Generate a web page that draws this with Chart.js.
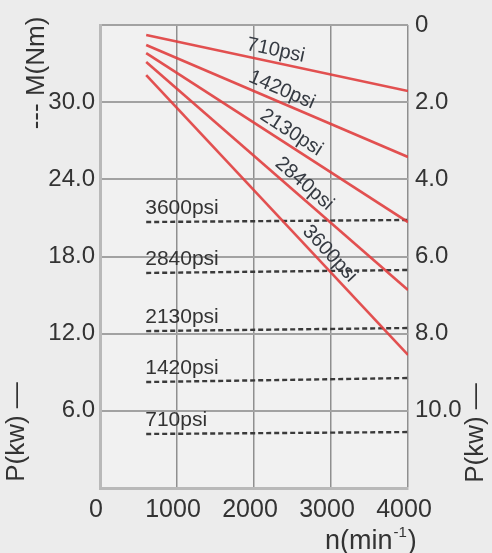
<!DOCTYPE html>
<html>
<head>
<meta charset="utf-8">
<script src="https://cdn.jsdelivr.net/npm/chart.js@4.4.1/dist/chart.umd.min.js"></script>
<style>
  html, body { margin: 0; padding: 0; background: #ececec; }
  canvas { display: block; }
</style>
</head>
<body>
<canvas id="motorChart" width="492" height="553"></canvas>
<script>
// speed range of every curve, n in min^-1
const speedRange = [600, 4000];
const pressureLabels = ['710psi', '1420psi', '2130psi', '2840psi', '3600psi'];
// solid red curves, read on the right axis (0 at the top)
const powerAtStart = [0.26, 0.52, 0.73, 0.96, 1.30];
const powerAtEnd = [1.71, 3.42, 5.11, 6.87, 8.55];
// dashed curves, read on the left axis M(Nm)
const torqueAtStart = [4.2, 8.24, 12.2, 16.72, 20.68];
const torqueAtEnd = [4.35, 8.55, 12.44, 16.95, 20.84];
// tick labels
const speedTicks = [0, 1000, 2000, 3000, 4000];
const torqueTicks = [6, 12, 18, 24, 30];
const powerTicks = [0, 2, 4, 6, 8, 10];

const textColor = '#333333';
const fontFamily = '"Liberation Sans", Arial, sans-serif';

const powerSets = pressureLabels.map((label, i) => ({
    label: label,
    yAxisID: 'yP',
    data: [{ x: speedRange[0], y: powerAtStart[i] }, { x: speedRange[1], y: powerAtEnd[i] }],
    borderColor: 'rgba(224, 62, 62, 0.9)',
    borderWidth: 2.6,
    pointRadius: 0,
    fill: false,
}));

const torqueSets = pressureLabels.map((label, i) => ({
    label: label,
    yAxisID: 'yM',
    data: [{ x: speedRange[0], y: torqueAtStart[i] }, { x: speedRange[1], y: torqueAtEnd[i] }],
    borderColor: '#3a3a3a',
    borderWidth: 2.4,
    borderDash: [5, 3],
    pointRadius: 0,
    fill: false,
}));

// backgrounds
const backdrop = {
    id: 'backdrop',
    beforeDraw(chart) {
        const { ctx, chartArea: a } = chart;
        ctx.save();
        ctx.fillStyle = '#ececec';
        ctx.fillRect(0, 0, chart.width, chart.height);
        ctx.fillStyle = '#f1f1f1';
        ctx.fillRect(a.left, a.top, a.right - a.left, a.bottom - a.top);
        ctx.restore();
    }
};

// curve labels and axis titles
const annotations = {
    id: 'annotations',
    afterDatasetsDraw(chart) {
        const { ctx } = chart;
        const xs = chart.scales.x, yM = chart.scales.yM, yP = chart.scales.yP;
        ctx.save();
        ctx.fillStyle = textColor;

        // dashed curve labels, sitting on the start of each line
        ctx.font = '21px ' + fontFamily;
        ctx.textAlign = 'left';
        ctx.textBaseline = 'alphabetic';
        pressureLabels.forEach((label, i) => {
            ctx.fillText(label, xs.getPixelForValue(speedRange[0]) - 1, yM.getPixelForValue(torqueAtStart[i]) - 8);
        });

        // red curve labels, turned along each line
        const anchors = [2250, 2300, 2400, 2550, 2870];
        ctx.font = '20px ' + fontFamily;
        ctx.textAlign = 'center';
        ctx.textBaseline = 'middle';
        ctx.fillStyle = '#353a42';
        pressureLabels.forEach((label, i) => {
            const x0 = xs.getPixelForValue(speedRange[0]), y0 = yP.getPixelForValue(powerAtStart[i]);
            const x1 = xs.getPixelForValue(speedRange[1]), y1 = yP.getPixelForValue(powerAtEnd[i]);
            const ang = Math.atan2(y1 - y0, x1 - x0);
            const t = (anchors[i] - speedRange[0]) / (speedRange[1] - speedRange[0]);
            const px = x0 + (x1 - x0) * t + Math.sin(ang) * 12;
            const py = y0 + (y1 - y0) * t - Math.cos(ang) * 12;
            ctx.save();
            ctx.translate(px, py);
            ctx.rotate(ang);
            ctx.fillText(label, 0, 0);
            ctx.restore();
        });

        // axis titles
        ctx.fillStyle = textColor;
        ctx.font = '26px ' + fontFamily;
        const vertical = (txt, x, y) => {
            ctx.save();
            ctx.translate(x, y);
            ctx.rotate(-Math.PI / 2);
            ctx.fillText(txt, 0, 0);
            ctx.restore();
        };
        vertical('--- M(Nm)', 37, 73);
        vertical('P(kw) \u2014', 17, 432);
        vertical('P(kw) \u2014', 476, 433);

        // n(min^-1)
        ctx.textAlign = 'left';
        ctx.textBaseline = 'alphabetic';
        let tx = 325;
        const base = 549;
        ctx.font = '27px ' + fontFamily;
        ctx.fillText('n(min', tx, base);
        tx += ctx.measureText('n(min').width;
        ctx.font = '15px ' + fontFamily;
        ctx.fillText('-1', tx + 1, base - 12);
        tx += ctx.measureText('-1').width + 2;
        ctx.font = '27px ' + fontFamily;
        ctx.fillText(')', tx, base);
        ctx.restore();
    }
};

new Chart(document.getElementById('motorChart').getContext('2d'), {
    type: 'line',
    data: { datasets: [...powerSets, ...torqueSets] },
    options: {
        responsive: false,
        animation: false,
        layout: { padding: { top: 25, left: 0, right: 0, bottom: 0 } },
        plugins: { legend: { display: false }, tooltip: { enabled: false } },
        scales: {
            x: {
                type: 'linear',
                min: 0,
                max: 4000,
                afterBuildTicks: s => { s.ticks = speedTicks.map(v => ({ value: v })); },
                ticks: {
                    color: textColor,
                    font: { family: fontFamily, size: 25 },
                    padding: 7,
                    labelOffset: -4,
                    maxRotation: 0,
                    callback: v => String(v),
                },
                grid: { color: '#8f8f8f', lineWidth: 1.5, drawTicks: false },
                border: { color: '#b9b9b9', width: 3 },
                afterFit: s => { s.height = 65; },
            },
            yM: {
                position: 'left',
                min: 0,
                max: 36,
                ticks: {
                    stepSize: 6,
                    color: textColor,
                    font: { family: fontFamily, size: 24 },
                    padding: 5,
                    callback: v => torqueTicks.includes(v) ? v.toFixed(1) : '',
                },
                grid: { color: '#a2a2a2', lineWidth: 2, drawTicks: false },
                border: { color: '#b9b9b9', width: 3 },
                afterFit: s => { s.width = 100; },
            },
            yP: {
                position: 'right',
                reverse: true,
                min: 0,
                max: 12,
                ticks: {
                    stepSize: 2,
                    color: textColor,
                    font: { family: fontFamily, size: 24 },
                    padding: 7,
                    callback: v => powerTicks.includes(v) ? (v === 0 ? '0' : v.toFixed(1)) : '',
                },
                grid: { display: false, drawTicks: false },
                border: { display: false },
                afterFit: s => { s.width = 84; },
            },
        },
    },
    plugins: [backdrop, annotations],
});
</script>
</body>
</html>
